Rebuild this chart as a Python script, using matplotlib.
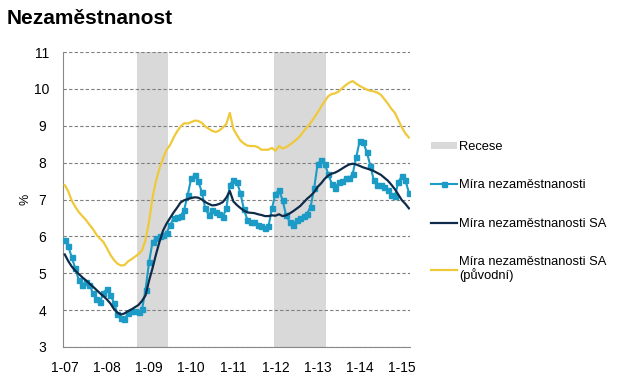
import numpy as np
import matplotlib
matplotlib.use('Agg')
import matplotlib.pyplot as plt
from matplotlib.patches import Patch
from matplotlib.lines import Line2D

plt.rcParams['font.family'] = ['Liberation Sans', 'DejaVu Sans']

## data: monthly, 1-07 .. 3-15
tick_labels = ['1-07', '1-08', '1-09', '1-10', '1-11', '1-12', '1-13', '1-14', '1-15']

mira = [5.89, 5.73, 5.43, 5.13, 4.82, 4.67, 4.76, 4.69, 4.46, 4.30, 4.22, 4.46,   # 2007
        4.58, 4.42, 4.20, 3.90, 3.78, 3.75, 3.92, 3.97, 3.97, 3.95, 4.02, 4.55,   # 2008
        5.30, 5.85, 5.95, 6.00, 6.05, 6.10, 6.30, 6.50, 6.53, 6.55, 6.72, 7.12,   # 2009
        7.57, 7.66, 7.50, 7.21, 6.76, 6.58, 6.72, 6.67, 6.61, 6.52, 6.76, 7.39,   # 2010
        7.54, 7.48, 7.18, 6.73, 6.45, 6.40, 6.40, 6.31, 6.29, 6.22, 6.27, 6.76,   # 2011
        7.16, 7.25, 6.99, 6.58, 6.40, 6.31, 6.44, 6.49, 6.55, 6.62, 6.80, 7.30,   # 2012
        7.97, 8.06, 7.97, 7.70, 7.43, 7.30, 7.48, 7.50, 7.57, 7.57, 7.70, 8.15,   # 2013
        8.60, 8.55, 8.28, 7.92, 7.52, 7.39, 7.39, 7.34, 7.25, 7.12, 7.09, 7.48,   # 2014
        7.63, 7.52, 7.18]                                                         # 2015

mira_sa = [5.51, 5.33, 5.18, 5.07, 4.98, 4.89, 4.81, 4.72, 4.64, 4.55, 4.46, 4.38,
           4.29, 4.18, 4.03, 3.93, 3.88, 3.91, 3.97, 4.02, 4.08, 4.14, 4.25, 4.40,
           4.80, 5.14, 5.52, 5.86, 6.16, 6.35, 6.50, 6.65, 6.78, 6.92, 6.98, 7.01,
           7.04, 7.06, 7.05, 7.00, 6.93, 6.88, 6.84, 6.85, 6.88, 6.93, 7.05, 7.23,
           6.95, 6.85, 6.77, 6.70, 6.65, 6.64, 6.63, 6.60, 6.58, 6.55, 6.55, 6.57,
           6.56, 6.60, 6.55, 6.57, 6.62, 6.68, 6.75, 6.82, 6.92, 7.02, 7.10, 7.20,
           7.34, 7.44, 7.56, 7.65, 7.70, 7.73, 7.78, 7.84, 7.90, 7.95, 7.97, 7.95,
           7.91, 7.87, 7.84, 7.81, 7.77, 7.72, 7.67, 7.59, 7.51, 7.40, 7.28, 7.13,
           6.98, 6.88, 6.76]

mira_sa_orig = [7.39, 7.22, 6.97, 6.80, 6.66, 6.55, 6.45, 6.32, 6.20, 6.05, 5.94, 5.85,
                5.68, 5.50, 5.36, 5.26, 5.21, 5.22, 5.32, 5.38, 5.45, 5.52, 5.62, 5.90,
                6.40, 7.05, 7.52, 7.85, 8.12, 8.35, 8.48, 8.68, 8.85, 8.98, 9.07, 9.06,
                9.10, 9.14, 9.13, 9.08, 8.98, 8.92, 8.86, 8.83, 8.87, 8.95, 9.05, 9.35,
                8.92, 8.75, 8.60, 8.52, 8.46, 8.45, 8.45, 8.42, 8.35, 8.35, 8.35, 8.40,
                8.32, 8.45, 8.38, 8.42, 8.48, 8.55, 8.63, 8.72, 8.85, 8.96, 9.08, 9.22,
                9.36, 9.52, 9.66, 9.80, 9.86, 9.88, 9.93, 10.02, 10.10, 10.17, 10.21, 10.14,
                10.08, 10.03, 9.98, 9.95, 9.93, 9.90, 9.84, 9.72, 9.60, 9.46, 9.35, 9.15,
                8.95, 8.79, 8.68]

# recession months (1 = recese)
recese = [0] * 21 + [1] * 9 + [0] * 30 + [1] * 15 + [0] * 24

x = np.arange(len(mira))
ymin, ymax = 3, 11

fig = plt.figure(figsize=(6.27, 3.82), dpi=100)
ax = fig.add_axes([63/627, 1-347/382, (410-63)/627, (347-52)/382])

rec_idx = [i for i, r in enumerate(recese) if r]
ax.bar(rec_idx, [ymax-ymin]*len(rec_idx), bottom=ymin, width=1.0,
       color='#d9d9d9', linewidth=0, zorder=1)

ax.plot(x, mira_sa_orig, color='#f0c93a', lw=1.6, zorder=3)
ax.plot(x, mira, color='#1b9bc6', lw=1.5, marker='s', ms=3.6, zorder=4)
ax.plot(x, mira_sa, color='#0f2b4a', lw=1.6, zorder=5)

ax.set_ylim(ymin, ymax)
ax.set_xlim(-0.5, len(mira)-0.7)
ax.set_yticks(range(ymin, ymax+1))
ax.set_xticks(np.arange(0, len(mira), 12))
ax.set_xticklabels(tick_labels)
ax.tick_params(length=0, labelsize=10, colors='black')
ax.tick_params(axis='x', pad=10)
ax.tick_params(axis='y', pad=15)
for t in ax.get_yticklabels():
    t.set_horizontalalignment('center')
ax.yaxis.grid(True, ls=(0, (3, 2)), color='#7f7f7f', lw=0.8)
for g in ax.get_ygridlines():
    g.set_zorder(2)
for s in ['top', 'right']:
    ax.spines[s].set_visible(False)
ax.spines['left'].set_color('#888888')
ax.spines['bottom'].set_color('#888888')
ax.set_ylabel('%', fontsize=9, labelpad=2)

fig.text(7/627, 1-18/382, 'Nezaměstnanost', fontsize=15, fontweight='bold', va='center')

handles = [Patch(facecolor='#d9d9d9', edgecolor='none'),
           Line2D([], [], color='#1b9bc6', lw=1.5, marker='s', ms=3.6),
           Line2D([], [], color='#0f2b4a', lw=1.6),
           Line2D([], [], color='#f0c93a', lw=1.6)]
labels = ['Recese', 'Míra nezaměstnanosti', 'Míra nezaměstnanosti SA',
          'Míra nezaměstnanosti SA\n(původní)']
leg = fig.legend(handles, labels, loc='upper left', bbox_to_anchor=(431/627, 1-141/382),
                 frameon=False, fontsize=9.3, handlelength=2.0, handleheight=0.5,
                 handletextpad=0.2, labelspacing=2.05, borderpad=0, borderaxespad=0)
for t in leg.get_texts():
    t.set_linespacing(1.0)

plt.savefig('out.png', dpi=100)
